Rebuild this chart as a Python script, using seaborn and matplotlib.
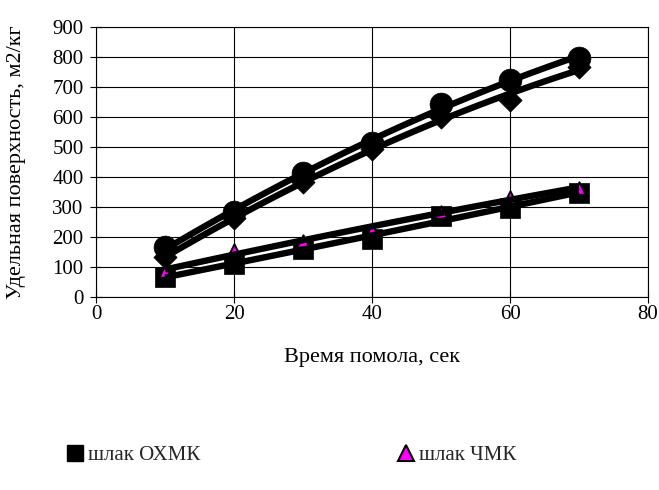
import matplotlib
matplotlib.use("Agg")
import matplotlib.pyplot as plt
from matplotlib.lines import Line2D
import seaborn as sns
import pandas as pd

# Grinding time, s
time_s = [10, 20, 30, 40, 50, 60, 70]

# Specific surface area, m2/kg
slag_okhmk = [67, 110, 160, 192, 270, 295, 348]
slag_chmk = [85, 155, 188, 222, 282, 332, 362]
series_d = [132, 262, 382, 492, 600, 658, 765]
series_c = [165, 282, 413, 513, 643, 722, 798]

x_ticks = [0, 20, 40, 60, 80]
y_ticks = [0, 100, 200, 300, 400, 500, 600, 700, 800, 900]

sns.set_theme(style="white")
plt.rcParams["font.family"] = ["Liberation Serif", "DejaVu Serif"]
plt.rcParams["font.size"] = 15

fig = plt.figure(figsize=(6.59, 4.90), dpi=100)
ax = fig.add_axes([0.1457, 0.394, 0.8376, 0.551])

# (values, marker, face colour, marker area, edge width)
styles = [
    (slag_okhmk, "s", "black", 210, 0.5),
    (slag_chmk, "^", "#FF00FF", 80, 1.4),
    (series_d, "D", "black", 140, 0.5),
    (series_c, "o", "black", 270, 0.5),
]

for values, mk, fc, size, ew in styles:
    df = pd.DataFrame({"t": time_s, "v": values})
    sns.regplot(data=df, x="t", y="v", order=2, ci=None, ax=ax,
                marker=mk, color=fc,
                scatter_kws=dict(s=size, alpha=1, edgecolors="black",
                                 linewidths=ew, zorder=3),
                line_kws=dict(color="black", lw=4.6, zorder=4,
                              solid_capstyle="butt"))

ax.set_xlim(0, 80)
ax.set_ylim(0, 900)
ax.set_xticks(x_ticks)
ax.set_yticks(y_ticks)
ax.grid(True, color="black", lw=0.8)
ax.set_axisbelow(True)
for sp in ax.spines.values():
    sp.set_color("black")
    sp.set_linewidth(0.8)
ax.tick_params(axis="both", direction="inout", length=8, width=0.8,
               color="black", labelsize=15, labelcolor="black",
               left=True, bottom=True)
ax.tick_params(axis="x", pad=2)
ax.tick_params(axis="y", pad=5)

ax.set_xlabel("Время помола, сек", fontsize=16, color="black", labelpad=17)
ax.set_ylabel("Удельная поверхность, м2/кг", fontsize=16, color="black",
              labelpad=19)

handles = [
    Line2D([], [], marker="s", ls="none", color="black", markersize=11),
    Line2D([], [], marker="^", ls="none", markerfacecolor="#FF00FF",
           markeredgecolor="black", markeredgewidth=1.5, markersize=11),
]
fig.legend(handles, ["шлак ОХМК", "шлак ЧМК"], ncol=2, frameon=False,
           loc="center left", bbox_to_anchor=(0.07, 0.07),
           columnspacing=9.4, handletextpad=0.1, handlelength=1.0,
           fontsize=15)

fig.savefig("out.png", dpi=100)
